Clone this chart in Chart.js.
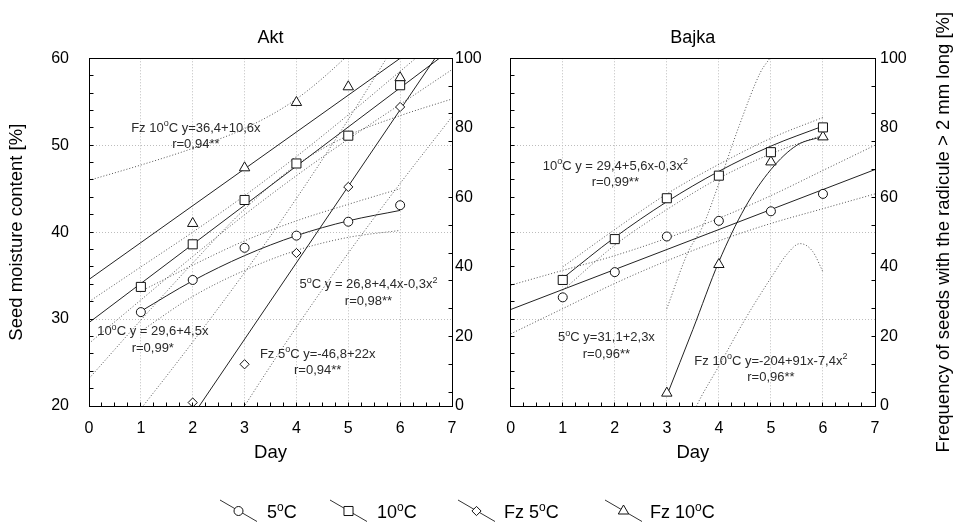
<!DOCTYPE html>
<html>
<head>
<meta charset="utf-8">
<title>Akt / Bajka</title>
<script src="https://cdn.jsdelivr.net/npm/chart.js@4.4.1/dist/chart.umd.min.js"></script>
<style>
  html, body { margin: 0; padding: 0; background: #fff; }
  #stage { position: relative; width: 953px; height: 524px; }
  #stage canvas { position: absolute; left: 0; top: 0; }
</style>
</head>
<body>
<div id="stage">
  <canvas id="aktChart" width="953" height="524"></canvas>
  <canvas id="bajkaChart" width="953" height="524"></canvas>
</div>
<script>
const FONT = '"Liberation Sans", Arial, Helvetica, sans-serif';
const GRID = '#bdbdbd';
const INK = '#111';
const TITLE_SIZE = 18.5;

// sampling days
const DAYS = [1, 2, 3, 4, 5, 6];
const AKT_FZ_DAYS = [2, 3, 4, 5, 6];
const BAJKA_FZ_DAYS = [3, 4, 5, 6];

// ---- Akt: seed moisture content [%] (left axis)
const aktMoist5 = [30.8, 34.5, 38.2, 39.6, 41.2, 43.1];
const aktMoist10 = [33.7, 38.6, 43.7, 47.9, 51.1, 56.9];
// ---- Akt: seeds with radicle > 2 mm [%] (right axis)
const aktFz5 = [1, 12, 44, 63, 86];
const aktFz10 = [52.5, 68.5, 87.3, 91.8, 94.4];

// Akt regression curves and confidence limits
const aktFit5X = [1, 2, 3, 4, 5, 6];
const aktFit5Y = [30.9, 34.4, 37.3, 39.6, 41.3, 42.5];
const aktBand5Hi = [33.2, 36.2, 39.0, 41.3, 43.2, 45.0];
const aktBand5Lo = [28.6, 32.6, 35.6, 37.9, 39.4, 40.2];

const aktFit10X = [0, 7];
const aktFit10Y = [29.6, 61.1];
const aktBandX = [0, 1, 2, 3, 4, 5, 6, 7];
const aktBand10Hi = [32.0, 36.0, 40.0, 44.2, 48.7, 53.5, 58.5, 63.5];
const aktBand10Lo = [27.2, 32.2, 37.2, 42.0, 46.5, 50.7, 54.7, 58.7];

const aktFitFz10X = [0, 7];
const aktFitFz10Y = [36.4, 110.6];
const aktBandFz10Hi = [64.9, 69.3, 74.1, 79.8, 88.3, 101, 116.5, 133];
const aktBandFz10Lo = [7.9, 24.7, 41.1, 56.6, 69.3, 77.8, 83.5, 88.3];

const aktFitFz5X = [0, 7];
const aktFitFz5Y = [-46.8, 107.2];
const aktBandFz5Hi = [-19.3, -0.8, 18.4, 38.4, 59.7, 82.4, 106.4, 131];
const aktBandFz5Lo = [-74.3, -48.8, -24, 0, 22.7, 44, 64, 83.2];

// ---- Bajka
const bajMoist5 = [32.5, 35.4, 39.5, 41.3, 42.4, 44.4];
const bajMoist10 = [34.5, 39.2, 43.9, 46.5, 49.2, 52.05];
const bajFz10 = [3.7, 40.7, 70.2, 77.4];

const bajFit5X = [0, 7];
const bajFit5Y = [31.1, 47.2];
const bajBandX = [0, 1, 2, 3, 4, 5, 6, 7];
const bajBand5Hi = [33.9, 35.6, 37.3, 39.3, 41.6, 44.2, 47.1, 50.0];
const bajBand5Lo = [28.3, 31.2, 34.1, 36.7, 39.0, 41.0, 42.7, 44.4];

const bajFit10X = [1, 2, 3, 4, 5, 6];
const bajFit10Y = [34.7, 39.4, 43.5, 47.0, 49.9, 52.2];
const bajBand10Hi = [36.0, 40.3, 44.4, 47.8, 50.8, 53.2];
const bajBand10Lo = [33.3, 38.5, 42.6, 46.2, 49.0, 51.2];

const bajFitFz10X = [3, 3.5, 4, 4.5, 5, 5.5, 6];
const bajFitFz10Y = [3, 22, 41.5, 57, 68, 75, 77.5];
const bajBandFz10HiX = [3, 3.4, 3.7, 4.0, 4.4, 4.8, 5.0, 5.2];
const bajBandFz10Hi = [28, 44, 52, 64, 81, 96, 100.5, 106];
const bajBandFz10LoX = [3, 3.57, 4, 4.53, 5.05, 5.3, 5.56, 5.8, 6];
const bajBandFz10Lo = [-20, 0, 11.5, 25.6, 38, 43.5, 46.7, 44.5, 38.6];

// equation labels: x in days, y on the moisture axis (centre of first line)
const aktNotes = [
  { x: 2.06, y: 52.1, lines: ['Fz 10^oC y=36,4+10,6x', 'r=0,94**'] },
  { x: 1.23, y: 28.7, lines: ['10^oC y = 29,6+4,5x', 'r=0,99*'] },
  { x: 5.39, y: 34.1, lines: ['5^oC y = 26,8+4,4x-0,3x^2', 'r=0,98**'] },
  { x: 4.41, y: 26.1, lines: ['Fz 5^oC y=-46,8+22x', 'r=0,94**'] }
];
const bajNotes = [
  { x: 2.01, y: 47.7, lines: ['10^oC y = 29,4+5,6x-0,3x^2', 'r=0,99**'] },
  { x: 1.84, y: 28.0, lines: ['5^oC y=31,1+2,3x', 'r=0,96**'] },
  { x: 5.0, y: 25.3, lines: ['Fz 10^oC y=-204+91x-7,4x^2', 'r=0,96**'] }
];

const legendLabels = ['5^oC', '10^oC', 'Fz 5^oC', 'Fz 10^oC'];
const legendStyles = ['circle', 'rect', 'rectRot', 'triangle'];

const RIGHT_MINOR = [4, 12, 20, 28, 36, 44, 52, 60, 68, 76, 84, 92];

// layout
const PLOT_TOP = 58.3;
const PLOT_BOTTOM = 406;
const X_AXIS_H = 61;

const MARK = {
  circle: 4.5, rect: 6.4, rectRot: 4.6, triangle: 6
};

function xy(xs, ys) {
  return xs.map((x, i) => ({ x, y: ys[i] }));
}

function markers(xs, ys, style, axis) {
  return {
    data: xy(xs, ys), yAxisID: axis, showLine: false, order: 0,
    pointStyle: style, pointRadius: MARK[style], pointBorderWidth: 1,
    pointBorderColor: INK, pointBackgroundColor: '#fff'
  };
}

function fitLine(xs, ys, axis) {
  return {
    data: xy(xs, ys), yAxisID: axis, order: 1,
    borderColor: '#222', borderWidth: 1, pointRadius: 0,
    cubicInterpolationMode: 'monotone'
  };
}

function bandLine(xs, ys, axis) {
  return {
    data: xy(xs, ys), yAxisID: axis, order: 2,
    borderColor: '#555', borderWidth: 1, borderDash: [1, 2], pointRadius: 0,
    cubicInterpolationMode: 'monotone'
  };
}

// text with ^x superscripts
function drawRich(ctx, str, x, cy, size, align) {
  const segs = [];
  for (let i = 0; i < str.length; i++) {
    if (str[i] === '^' && i + 1 < str.length) { segs.push({ t: str[i + 1], sup: true }); i++; }
    else if (segs.length && !segs[segs.length - 1].sup) segs[segs.length - 1].t += str[i];
    else segs.push({ t: str[i], sup: false });
  }
  const supSize = Math.round(size * 0.68);
  let total = 0;
  segs.forEach(s => {
    ctx.font = (s.sup ? supSize : size) + 'px ' + FONT;
    s.w = ctx.measureText(s.t).width;
    total += s.w;
  });
  let px = align === 'center' ? x - total / 2 : x;
  const base = cy + size * 0.36;
  ctx.textBaseline = 'alphabetic';
  ctx.textAlign = 'left';
  segs.forEach(s => {
    ctx.font = (s.sup ? supSize : size) + 'px ' + FONT;
    ctx.fillText(s.t, px, s.sup ? base - size * 0.42 : base);
    px += s.w;
  });
}

function drawMarker(ctx, style, x, y) {
  const r = MARK[style];
  ctx.beginPath();
  if (style === 'circle') ctx.arc(x, y, r, 0, Math.PI * 2);
  else if (style === 'rect') { const h = r * Math.SQRT1_2; ctx.rect(x - h, y - h, 2 * h, 2 * h); }
  else if (style === 'rectRot') { ctx.moveTo(x, y - r); ctx.lineTo(x + r, y); ctx.lineTo(x, y + r); ctx.lineTo(x - r, y); ctx.closePath(); }
  else { ctx.moveTo(x, y - r); ctx.lineTo(x + r * 0.866, y + r / 2); ctx.lineTo(x - r * 0.866, y + r / 2); ctx.closePath(); }
  ctx.fillStyle = '#fff';
  ctx.fill();
  ctx.stroke();
}

function align(p) { return Math.round(p - 0.5) + 0.5; }

function panelDecor(p) {
  return {
    id: 'panelDecor',
    afterDatasetsDraw(chart) {
      const { ctx, chartArea: a, scales } = chart;
      const L = align(a.left), R = align(a.right), T = align(a.top), B = align(a.bottom);
      ctx.save();
      ctx.strokeStyle = '#000';
      ctx.lineWidth = 1;
      ctx.strokeRect(L, T, R - L, B - T);
      ctx.beginPath();
      for (let v = 0.25; v < 7; v += 0.25) {
        const x = align(scales.x.getPixelForValue(v));
        ctx.moveTo(x, B); ctx.lineTo(x, B - 4);
      }
      for (let v = 22; v < 60; v += 2) {
        const y = align(scales.y.getPixelForValue(v));
        ctx.moveTo(L, y); ctx.lineTo(L + 4, y);
      }
      RIGHT_MINOR.forEach(v => {
        const y = align(scales.y2.getPixelForValue(v));
        ctx.moveTo(R, y); ctx.lineTo(R - 4, y);
      });
      ctx.stroke();
      ctx.restore();
    },
    afterDraw(chart) {
      const { ctx, chartArea: a, scales } = chart;
      ctx.save();
      ctx.fillStyle = '#000';
      drawRich(ctx, p.title, (a.left + a.right) / 2, 37, 18, 'center');
      ctx.fillStyle = '#2a2a2a';
      p.notes.forEach(n => {
        const cx = scales.x.getPixelForValue(n.x);
        const cy = scales.y.getPixelForValue(n.y);
        n.lines.forEach((line, i) => drawRich(ctx, line, cx, cy + i * 16.5, 13, 'center'));
      });
      if (p.after) p.after(chart);
      ctx.restore();
    }
  };
}

function tickFont() { return { family: FONT, size: 16 }; }

function makePanel(id, p) {
  return new Chart(document.getElementById(id), {
    type: 'line',
    data: { datasets: p.datasets },
    options: {
      responsive: false,
      animation: false,
      events: [],
      layout: { padding: { left: p.padLeft, right: p.padRight, top: PLOT_TOP, bottom: 524 - PLOT_BOTTOM - X_AXIS_H } },
      plugins: { legend: { display: false }, tooltip: { enabled: false } },
      scales: {
        x: {
          type: 'linear', min: 0, max: 7,
          afterFit: s => { s.height = X_AXIS_H; },
          ticks: { stepSize: 1, color: '#000', font: tickFont(), padding: 13 },
          grid: { color: GRID, drawTicks: false },
          border: { color: '#000', dash: [1, 2] },
          title: {
            display: true, text: 'Day', color: '#000',
            font: { family: FONT, size: TITLE_SIZE }, padding: { top: 0, bottom: 2.5 }
          }
        },
        y: {
          type: 'linear', position: 'left', min: 20, max: 60,
          afterFit: s => { s.width = p.leftWidth; },
          ticks: { display: p.leftLabels, stepSize: 10, color: '#000', font: tickFont(), padding: 20 },
          grid: { color: GRID, drawTicks: false },
          border: { color: '#000', dash: [1, 2] },
          title: {
            display: p.leftLabels, text: 'Seed moisture content [%]', color: '#000',
            font: { family: FONT, size: TITLE_SIZE }, padding: { top: 6, bottom: 0 }
          }
        },
        y2: {
          type: 'linear', position: 'right', min: 0, max: 100,
          afterFit: s => { s.width = p.rightWidth; },
          ticks: { stepSize: 20, color: '#000', font: tickFont(), padding: p.rightPad },
          grid: { drawOnChartArea: false, drawTicks: false },
          border: { color: '#000' }
        }
      }
    },
    plugins: [panelDecor(p)]
  });
}

function drawLegend(chart) {
  const { ctx } = chart;
  const iconX = [220, 330, 458, 605];
  const textX = [267, 377, 504, 650];
  ctx.lineWidth = 1;
  legendLabels.forEach((label, i) => {
    const x0 = iconX[i];
    ctx.strokeStyle = '#333';
    ctx.beginPath();
    ctx.moveTo(x0, 500); ctx.lineTo(x0 + 37, 521.5);
    ctx.stroke();
    ctx.strokeStyle = INK;
    drawMarker(ctx, legendStyles[i], x0 + 18.5, 511);
    ctx.fillStyle = '#000';
    drawRich(ctx, label, textX[i], 512, 18, 'left');
  });
}

function drawRightTitle(chart) {
  const { ctx, chartArea: a } = chart;
  ctx.save();
  ctx.translate(944, (a.top + a.bottom) / 2);
  ctx.rotate(-Math.PI / 2);
  ctx.fillStyle = '#000';
  ctx.font = TITLE_SIZE + 'px ' + FONT;
  ctx.textAlign = 'center';
  ctx.textBaseline = 'middle';
  ctx.fillText('Frequency of seeds with the radicule > 2 mm long [%]', 0, 0);
  ctx.restore();
}

makePanel('aktChart', {
  title: 'Akt', notes: aktNotes, leftLabels: true,
  padLeft: 0, leftWidth: 89, rightWidth: 40, padRight: 953 - 452 - 40, rightPad: 3,
  after: drawLegend,
  datasets: [
    bandLine(aktBandX, aktBandFz10Hi, 'y2'), bandLine(aktBandX, aktBandFz10Lo, 'y2'),
    bandLine(aktBandX, aktBandFz5Hi, 'y2'), bandLine(aktBandX, aktBandFz5Lo, 'y2'),
    bandLine(aktBandX, aktBand10Hi, 'y'), bandLine(aktBandX, aktBand10Lo, 'y'),
    bandLine(aktFit5X, aktBand5Hi, 'y'), bandLine(aktFit5X, aktBand5Lo, 'y'),
    fitLine(aktFitFz10X, aktFitFz10Y, 'y2'), fitLine(aktFitFz5X, aktFitFz5Y, 'y2'),
    fitLine(aktFit10X, aktFit10Y, 'y'), fitLine(aktFit5X, aktFit5Y, 'y'),
    markers(DAYS, aktMoist5, 'circle', 'y'), markers(DAYS, aktMoist10, 'rect', 'y'),
    markers(AKT_FZ_DAYS, aktFz5, 'rectRot', 'y2'), markers(AKT_FZ_DAYS, aktFz10, 'triangle', 'y2')
  ]
});

makePanel('bajkaChart', {
  title: 'Bajka', notes: bajNotes, leftLabels: false,
  padLeft: 500.7, leftWidth: 10, rightWidth: 78, padRight: 0, rightPad: 5,
  after: drawRightTitle,
  datasets: [
    bandLine(bajBandFz10HiX, bajBandFz10Hi, 'y2'), bandLine(bajBandFz10LoX, bajBandFz10Lo, 'y2'),
    bandLine(bajBandX, bajBand5Hi, 'y'), bandLine(bajBandX, bajBand5Lo, 'y'),
    bandLine(bajFit10X, bajBand10Hi, 'y'), bandLine(bajFit10X, bajBand10Lo, 'y'),
    fitLine(bajFitFz10X, bajFitFz10Y, 'y2'),
    fitLine(bajFit5X, bajFit5Y, 'y'), fitLine(bajFit10X, bajFit10Y, 'y'),
    markers(DAYS, bajMoist5, 'circle', 'y'), markers(DAYS, bajMoist10, 'rect', 'y'),
    markers(BAJKA_FZ_DAYS, bajFz10, 'triangle', 'y2')
  ]
});
</script>
</body>
</html>
